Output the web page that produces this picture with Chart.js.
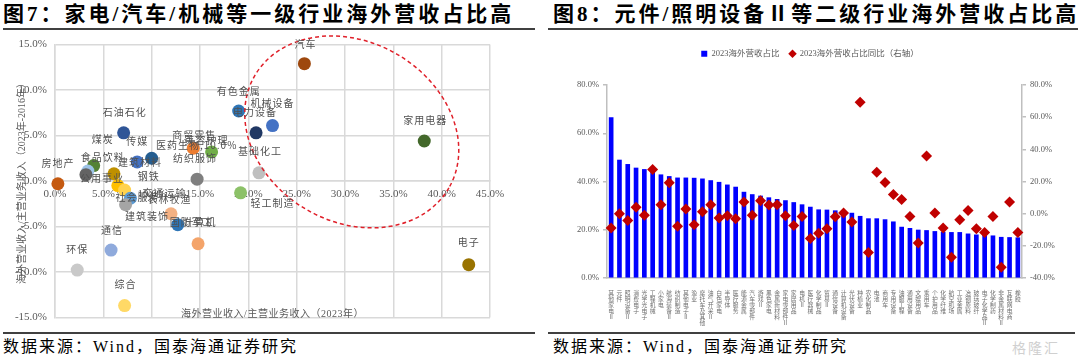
<!DOCTYPE html>
<html><head><meta charset="utf-8">
<script src="https://cdn.jsdelivr.net/npm/chart.js@4.4.1/dist/chart.umd.min.js"></script>
<style>
body{margin:0;width:1080px;height:357px;background:#fff;position:relative;overflow:hidden;font-family:"Liberation Serif","Noto Sans CJK SC",serif;}
.title{position:absolute;top:1px;font-size:21px;font-weight:700;letter-spacing:3px;color:#000;white-space:nowrap;line-height:26px;}
.rule{position:absolute;height:2px;background:#404040;}
.src{position:absolute;top:337px;font-size:16px;letter-spacing:2px;color:#000;white-space:nowrap;line-height:20px;}
.box{position:absolute;top:30px;width:540px;height:302px;}
.wm{position:absolute;left:1012px;top:337px;font-size:14px;color:#d0d0d0;font-family:"Noto Sans CJK SC",sans-serif;letter-spacing:2px;}
</style></head><body>
<div class="title" style="left:3px">图7：家电/汽车/机械等一级行业海外营收占比高</div>
<div class="title" style="left:553px">图8：元件/照明设备Ⅱ等二级行业海外营收占比高</div>
<div class="rule" style="left:3px;top:28px;width:532px"></div>
<div class="rule" style="left:548px;top:28px;width:530px"></div>
<div class="rule" style="left:3px;top:332px;width:532px"></div>
<div class="rule" style="left:548px;top:332px;width:527px"></div>
<div class="src" style="left:3px">数据来源：Wind，国泰海通证券研究</div>
<div class="src" style="left:553px">数据来源：Wind，国泰海通证券研究</div>
<div class="wm">格隆汇</div>
<div class="box" style="left:0"><canvas id="c1" width="540" height="302"></canvas></div>
<div class="box" style="left:540px"><canvas id="c2" width="540" height="302"></canvas></div>
<script>
// ---------- Figure 7 data ----------
const industries = ['房地产','煤炭','食品饮料','建筑材料','石油石化','传媒','医药生物','公用事业','纺织服饰','商贸零售','美容护理','有色金属','电力设备','机械设备','基础化工','汽车','家用电器','电子','钢铁','交通运输','社会服务','农林牧渔','建筑装饰','国防军工','计算机','轻工制造','通信','环保','综合'];
const overseasShare2023 = [0.3,4.0,3.4,3.2,7.1,8.5,10.0,6.1,14.7,14.3,16.2,19.0,20.8,22.5,21.1,25.8,38.2,42.8,6.5,7.2,7.8,7.3,12.0,12.7,14.8,19.2,5.8,2.3,7.2];
const shareChange2016to2023 = [-0.3,1.7,1.1,0.7,5.3,2.1,2.5,0.8,0.2,3.6,3.2,7.7,5.3,6.1,0.9,12.9,4.4,-9.2,-0.5,-1.0,-1.9,-2.6,-3.6,-4.8,-6.9,-1.3,-7.6,-9.8,-13.7];
const showValueFor = ['医药生物'];
const xTicksStep = 5, yTicksStep = 5;

// styles (not data)
const dotColors = ['#C55A11','#548235','#9DC3E6','#636363','#2F5597','#4472C4','#255E91','#BF9000','#7F7F7F','#ED7D31','#70AD47','#2E75B6','#203864','#4472C4','#BFBFBF','#9E480E','#43682B','#997300','#FFC000','#FFD24D','#5B9BD5','#A5A5A5','#F4B183','#2E75B6','#F4A46A','#8CC168','#8FAADC','#C9C9C9','#FFD966'];
const labelOffsets = [[0,-21],[9,-26],[15,-14],[54,-12],[1,-21],[0,-21],[45,-13],[-12,4],[-2,-21],[1,-13],[-5,-12],[0,-20],[-1,-21],[0,-22],[1,-22],[1,-19],[1,-21],[0,-22],[31,-9],[40,3],[7,-1],[44,-5],[-24,2],[14,-2],[2,-22],[32,10],[1,-20],[0,-21],[1,-21]];

// ---------- Figure 8 data ----------
const subIndustries = ['其他家电Ⅱ','元件','照明设备Ⅱ','消费电子','光学光电子','工程机械','小家电','航海装备Ⅱ','纺织制造','其他电子Ⅱ','渔业','摩托车及其他','油气开采Ⅱ','白色家电','半导体','医疗服务','能源金属','汽车零部件','游戏Ⅱ','黑色家电','金属新材料','家电零部件Ⅱ','家居用品','电机Ⅱ','医疗器械','化学制品','贸易Ⅱ','通信设备','计算机设备','光伏设备','种植业','农化制品','电池','商用车','专用设备','油服工程','通用设备','文娱用品','乘用车','个护用品','化学纤维','航空机场','工业金属','冶钢原料','玻璃玻纤','电子化学品Ⅱ','化学制药','非金属材料Ⅱ','互联网电商','橡胶'];
const share2023 = [66.5,48.9,47.1,45.6,45.0,44.3,42.8,42.1,41.5,41.5,41.4,41.1,40.4,39.7,38.6,37.7,35.6,34.6,34.0,33.3,32.6,32.1,31.3,30.4,29.4,28.3,28.2,27.9,27.4,26.9,25.6,24.6,24.6,24.2,23.3,21.1,20.6,19.9,19.7,19.3,19.0,18.9,18.9,18.3,17.9,17.8,17.5,16.9,16.8,16.7];
const shareYoY = [-8.9,0.0,-4.2,4.0,-1.0,27.5,5.6,19.2,-7.9,2.9,-6.9,1.25,5.6,-2.7,-1.25,-3.1,7.3,-1.0,8.1,5.4,5.6,-1.25,-7.3,-1.7,-15.4,-12.1,-9.4,-1.9,0.4,-5.2,69.2,-24.2,25.8,19.4,11.9,8.75,-1.7,-18.3,35.8,0.4,-8.9,-27.1,-3.75,1.9,-9.4,-11.7,-1.7,-33.3,7.3,-11.7];
const leftAxisTicks = {min:0, max:80, step:20};
const rightAxisTicks = {min:-40, max:80, step:20};

const SERIF = "'Liberation Serif','Noto Sans CJK SC',serif";
const CJK = "'Noto Sans CJK SC',sans-serif";
const pct = v => Number(v).toFixed(1) + '%';

// ellipse annotation (data units, radii in x-units)
const ellipse = {cx:30.7, cy:5.4, rx:11.6, ry:9.3, rotDeg:30};

const ellipsePlugin = {
  id:'ellipse',
  afterDatasetsDraw(chart){
    const xs = chart.scales.x, ys = chart.scales.y, ctx = chart.ctx;
    const cx = xs.getPixelForValue(ellipse.cx), cy = ys.getPixelForValue(ellipse.cy);
    const ppu = Math.abs(xs.getPixelForValue(1) - xs.getPixelForValue(0));
    ctx.save();
    ctx.strokeStyle = '#E0202A'; ctx.lineWidth = 1.5; ctx.setLineDash([4,3]);
    ctx.beginPath();
    ctx.ellipse(cx, cy, ellipse.rx*ppu, ellipse.ry*ppu, ellipse.rotDeg*Math.PI/180, 0, Math.PI*2);
    ctx.stroke();
    ctx.restore();
  }
};
const labelPlugin = {
  id:'pointLabels',
  afterDatasetsDraw(chart){
    const meta = chart.getDatasetMeta(0), ctx = chart.ctx;
    ctx.save();
    ctx.font = "10px " + CJK; ctx.fillStyle = '#505050';
    ctx.textAlign = 'center'; ctx.textBaseline = 'middle';
    try { ctx.letterSpacing = '1px'; } catch(e){}
    meta.data.forEach((pt, i) => {
      let t = industries[i];
      if (showValueFor.includes(t)) t += ',' + pct(overseasShare2023[i]);
      ctx.fillText(t, pt.x + labelOffsets[i][0], pt.y + labelOffsets[i][1]);
    });
    ctx.restore();
  }
};
const xTitlePlugin = {
  id:'xTitle',
  afterDraw(chart){
    const a = chart.chartArea, ctx = chart.ctx, ys = chart.scales.y;
    ctx.save();
    ctx.font = "10px " + SERIF; ctx.fillStyle = '#595959';
    ctx.textAlign = 'center'; ctx.textBaseline = 'middle';
    try { ctx.letterSpacing = '0.5px'; } catch(e){}
    ctx.fillText('海外营业收入/主营业务收入（2023年）', (a.left + a.right)/2, ys.getPixelForValue(ys.min) - 3);
    ctx.restore();
  }
};

new Chart(document.getElementById('c1'), {
  type:'scatter',
  data:{datasets:[{
    data: industries.map((n,i)=>({x:overseasShare2023[i], y:shareChange2016to2023[i]})),
    backgroundColor: dotColors, borderWidth:0, pointRadius:6.5, pointHoverRadius:6.5, clip:false
  }]},
  options:{
    responsive:false, animation:false, events:[],
    layout:{padding:{left:0, top:9, right:50, bottom:14}},
    plugins:{legend:{display:false}, tooltip:{enabled:false}},
    scales:{
      x:{type:'linear', position:{y:0}, min:0, max:45,
         ticks:{stepSize:xTicksStep, callback:pct, color:'#595959', font:{size:11, family:SERIF}, padding:7, maxRotation:0},
         grid:{color:'#D9D9D9', lineWidth:1.5, drawTicks:false},
         border:{color:'#D9D9D9', width:1.5}},
      y:{type:'linear', min:-15, max:15,
         ticks:{stepSize:yTicksStep, callback:pct, color:'#595959', font:{size:11, family:SERIF}, padding:8},
         grid:{color:'#D9D9D9', lineWidth:1.5, drawTicks:false},
         border:{color:'#D9D9D9', width:1.5},
         title:{display:true, text:'海外营业收入/主营业务收入（2023年-2016年）', color:'#595959', font:{size:10, family:SERIF}, padding:{top:16, bottom:0}},
         afterFit(s){ s.width = 55; }}
    }
  },
  plugins:[ellipsePlugin, labelPlugin, xTitlePlugin]
});

const legendSpacer = {
  id:'legendSpacer',
  beforeLayout(chart){
    const lg = chart.legend;
    if (lg && !lg._spaced){
      const fit = lg.fit;
      lg.fit = function(){ fit.call(this); this.height += 17; };
      lg._spaced = true;
    }
  }
};

new Chart(document.getElementById('c2'), {
  type:'bar',
  data:{
    labels: subIndustries.map(s => Array.from(s)),
    datasets:[
      {type:'bar', label:'2023海外营收占比', data:share2023, yAxisID:'y', backgroundColor:'#0000FF', borderWidth:0, barThickness:4, pointStyle:'rect', order:2},
      {type:'line', label:'2023海外营收占比同比（右轴）', data:shareYoY, yAxisID:'y2', showLine:false, pointStyle:'rectRot', pointRadius:5.5, pointHoverRadius:5.5, backgroundColor:'#C00000', borderColor:'#C00000', borderWidth:0, pointBorderWidth:0, order:1, clip:false}
    ]
  },
  options:{
    responsive:false, animation:false, events:[],
    layout:{padding:{left:0, top:9.5, right:0, bottom:0}},
    plugins:{
      tooltip:{enabled:false},
      legend:{display:true, position:'top', labels:{usePointStyle:true, boxWidth:6, boxHeight:6, padding:10, color:'#595959', font:{size:8.5, family:SERIF}, sort:(a,b)=>a.datasetIndex-b.datasetIndex}}
    },
    scales:{
      x:{grid:{display:false}, border:{display:true, color:'#BFBFBF', width:1.5},
         ticks:{autoSkip:false, maxRotation:0, minRotation:0, padding:4, color:'#6F6F6F', font:{size:5.8, lineHeight:'6px', family:CJK}},
         afterFit(s){ s.height = 54; }},
      y:{position:'left', min:leftAxisTicks.min, max:leftAxisTicks.max,
         ticks:{stepSize:leftAxisTicks.step, callback:pct, color:'#595959', font:{size:8.5, family:SERIF}, padding:4},
         grid:{drawOnChartArea:false, drawTicks:true, tickLength:4, color:'#BFBFBF', lineWidth:1.5},
         border:{color:'#BFBFBF', width:1.5},
         afterFit(s){ s.width = 67; }},
      y2:{position:'right', min:rightAxisTicks.min, max:rightAxisTicks.max,
         ticks:{stepSize:rightAxisTicks.step, callback:pct, color:'#595959', font:{size:8.5, family:SERIF}, padding:4},
         grid:{drawOnChartArea:false, drawTicks:true, tickLength:4, color:'#BFBFBF', lineWidth:1.5},
         border:{color:'#BFBFBF', width:1.5},
         afterFit(s){ s.width = 58; }}
    }
  },
  plugins:[legendSpacer]
});
</script>
</body></html>
